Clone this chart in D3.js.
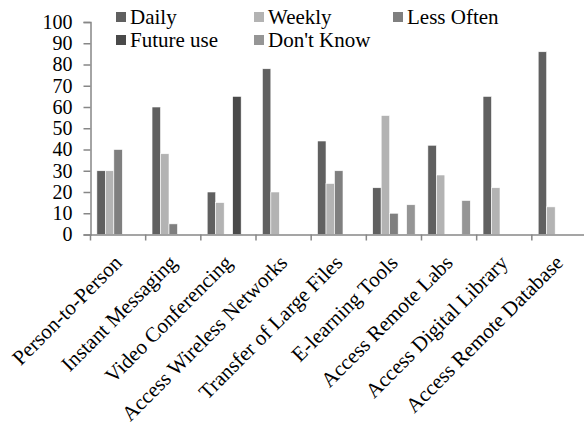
<!DOCTYPE html>
<html>
<head>
<meta charset="utf-8">
<script src="https://cdn.jsdelivr.net/npm/d3@7"></script>
<style>
  html, body { margin: 0; padding: 0; background: #fff; }
  svg { display: block; }
</style>
</head>
<body>
<svg id="chart" width="584" height="429"></svg>
<script>
// Survey of network service usage, by frequency
const categories = [
  "Person-to-Person", "Instant Messaging", "Video Conferencing",
  "Access Wireless Networks", "Transfer of Large Files", "E-learning Tools",
  "Access Remote Labs", "Access Digital Library", "Access Remote Database"
];
const seriesNames = ["Daily", "Weekly", "Less Often", "Future use", "Don't Know"];
const daily     = [30, 60, 20, 78, 44, 22, 42, 65, 86];
const weekly    = [30, 38, 15, 20, 24, 56, 28, 22, 13];
const lessOften = [40,  5,  0,  0, 30, 10,  0,  0,  0];
const futureUse = [ 0,  0, 65,  0,  0,  0,  0,  0,  0];
const dontKnow  = [ 0,  0,  0,  0,  0, 14, 16,  0,  0];
const yTicks = [0, 10, 20, 30, 40, 50, 60, 70, 80, 90, 100];

const seriesValues = [daily, weekly, lessOften, futureUse, dontKnow];
const colors = ["#606060", "#b3b3b3", "#7f7f7f", "#4a4a4a", "#959595"];
const FONT = "Liberation Serif";

const svg = d3.select("#chart");
const plotLeft = 90.5, plotRight = 587, plotTop = 22, plotBottom = 234.5;
const axisColor = "#878787";

const x = d3.scaleBand().domain(categories).range([plotLeft, plotRight]).paddingInner(0).paddingOuter(0);
const xs = d3.scaleBand().domain(seriesNames).range([0, x.bandwidth()]).paddingInner(0).paddingOuter(0.75);
const y = d3.scaleLinear().domain([0, 100]).range([plotBottom, plotTop]);

// bars
const rows = [];
categories.forEach((c, i) => {
  seriesNames.forEach((s, j) => {
    rows.push({ cat: c, series: s, value: seriesValues[j][i], color: colors[j] });
  });
});
svg.append("g").selectAll("rect")
  .data(rows.filter(d => d.value > 0))
  .join("rect")
  .attr("x", d => x(d.cat) + xs(d.series))
  .attr("y", d => y(d.value))
  .attr("width", xs.bandwidth())
  .attr("height", d => y(0) - y(d.value))
  .attr("fill", d => d.color)
  .attr("stroke", "#ffffff")
  .attr("stroke-width", 0.6);

// y axis
const yAxis = svg.append("g")
  .attr("transform", `translate(${plotLeft},0)`)
  .call(d3.axisLeft(y).tickValues(yTicks).tickSize(7).tickPadding(11).tickFormat(d3.format("d")));
yAxis.attr("font-family", FONT).attr("font-size", 20);
yAxis.select(".domain").attr("stroke", axisColor).attr("stroke-width", 1.5);
yAxis.selectAll(".tick line").attr("stroke", axisColor).attr("stroke-width", 1.5);
yAxis.selectAll(".tick text").attr("fill", "#000");

// x axis baseline and category tick marks
const xAxis = svg.append("g")
  .attr("transform", `translate(0,${plotBottom})`)
  .call(d3.axisBottom(x).tickSize(0).tickFormat(""));
xAxis.select(".domain").attr("stroke", axisColor).attr("stroke-width", 1.5);
xAxis.selectAll(".tick").remove();
const boundaries = categories.map(c => x(c)).concat([plotRight]);
xAxis.selectAll("line.sep")
  .data(boundaries)
  .join("line")
  .attr("class", "sep")
  .attr("x1", d => d).attr("x2", d => d)
  .attr("y1", 0).attr("y2", 6)
  .attr("stroke", axisColor)
  .attr("stroke-width", 1.5);

// rotated category labels
svg.append("g")
  .attr("font-family", FONT)
  .attr("font-size", 21)
  .selectAll("text")
  .data(categories)
  .join("text")
  .attr("transform", d => `translate(${x(d) + x.bandwidth() / 2 + 5},${plotBottom + 29.5}) rotate(-45)`)
  .attr("text-anchor", "end")
  .attr("fill", "#000")
  .text(d => d);

// legend: two rows, three columns
const legendCols = [116, 254, 393];
const legend = svg.append("g")
  .attr("font-family", FONT)
  .attr("font-size", 21)
  .selectAll("g")
  .data(seriesNames)
  .join("g")
  .attr("transform", (d, i) => `translate(${legendCols[i % 3]},${12 + Math.floor(i / 3) * 23})`);
legend.append("rect")
  .attr("width", 10).attr("height", 10)
  .attr("fill", (d, i) => colors[i]);
legend.append("text")
  .attr("x", 14).attr("y", 5)
  .attr("dy", "0.35em")
  .attr("fill", "#000")
  .text(d => d);
</script>
</body>
</html>
